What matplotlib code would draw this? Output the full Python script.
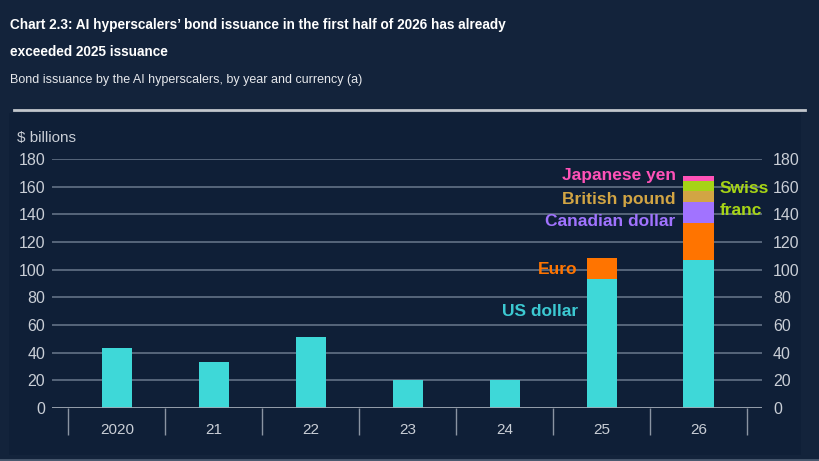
import numpy as np
import matplotlib
matplotlib.use("Agg")
import matplotlib.pyplot as plt
from matplotlib.lines import Line2D
from matplotlib.patches import Rectangle

# values, $ billions
years = ['2020', '21', '22', '23', '24', '25', '26']
us_dollar = [43.5, 33, 51.5, 20, 20, 93, 107]
euro = [0, 0, 0, 0, 0, 15.7, 27]
canadian_dollar = [0, 0, 0, 0, 0, 0, 15.2]
british_pound = [0, 0, 0, 0, 0, 0, 7.7]
swiss_franc = [0, 0, 0, 0, 0, 0, 7.3]
japanese_yen = [0, 0, 0, 0, 0, 0, 3.8]
y_ticks = [0, 20, 40, 60, 80, 100, 120, 140, 160, 180]

BG = '#13233b'
PANEL = '#0f1f37'
GRID = '#56657a'
TICK = '#c9ced6'

series = [
    ('US dollar', us_dollar, '#3ed8d8'),
    ('Euro', euro, '#ff7400'),
    ('Canadian dollar', canadian_dollar, '#a173ff'),
    ('British pound', british_pound, '#d2a544'),
    ('Swiss franc', swiss_franc, '#a6d416'),
    ('Japanese yen', japanese_yen, '#ff52b8'),
]

plt.rcParams['font.family'] = ['Liberation Sans', 'DejaVu Sans']

fig = plt.figure(figsize=(8.19, 4.61), dpi=100, facecolor=BG)
fig.add_artist(Rectangle((9 / 819, 1 - 455 / 461), 792 / 819, 342 / 461,
                         transform=fig.transFigure, facecolor=PANEL, edgecolor='none', zorder=-5))

ax = fig.add_axes([52 / 819, 1 - 408 / 461, 710 / 819, 249 / 461])
ax.set_facecolor('none')
x = np.arange(len(years))
bottom = np.zeros(len(years))
for name, vals, col in series:
    vals = np.array(vals, dtype=float)
    ax.bar(x, vals, width=0.31, bottom=bottom, color=col, zorder=3)
    bottom += vals

ax.set_xlim(-0.67, 6.655)
ax.set_ylim(0, 180)
ax.set_yticks(y_ticks)
ax.set_yticklabels([str(t) for t in y_ticks])
for t in y_ticks[1:]:
    ax.axhline(t, color=GRID, lw=1.4, zorder=1)
ax.axhline(0, color='#a3abb6', lw=2, zorder=4)
for s in ax.spines.values():
    s.set_visible(False)
ax.tick_params(axis='y', length=0, pad=5, labelsize=11.5, labelcolor=TICK)
ax.set_xticks(x)
ax.set_xticklabels(years)
ax.tick_params(axis='x', length=0, pad=11, labelsize=11, labelcolor=TICK)

# category separators below the axis
ax.vlines(np.arange(-0.5, len(years), 1.0), -0.108, 0, transform=ax.get_xaxis_transform(),
          color='#8a94a2', lw=1, clip_on=False, zorder=4)

ax2 = ax.twinx()
ax2.set_ylim(0, 180)
ax2.set_yticks(y_ticks)
ax2.set_yticklabels([str(t) for t in y_ticks])
for s in ax2.spines.values():
    s.set_visible(False)
ax2.tick_params(axis='y', length=0, pad=8, labelsize=11.5, labelcolor=TICK)

# direct labels
lab = dict(fontsize=12.5, fontweight='bold', va='center', zorder=5)
ax.text(4.753, 69.5, 'US dollar', color='#3cc9d2', ha='right', **lab)
ax.text(4.753, 100, 'Euro', color='#ff7400', ha='right', **lab)
ax.text(5.763, 134.5, 'Canadian dollar', color='#a173ff', ha='right', **lab)
ax.text(5.763, 151, 'British pound', color='#d2a544', ha='right', **lab)
ax.text(5.763, 168.3, 'Japanese yen', color='#ff52b8', ha='right', **lab)
ax.text(6.216, 158.5, 'Swiss', color='#a6d416', ha='left', **lab)
ax.text(6.216, 142.5, 'franc', color='#a6d416', ha='left', **lab)

fig.text(10 / 819, 1 - 25 / 461,
         'Chart 2.3: AI hyperscalers\u2019 bond issuance in the first half of 2026 has already',
         fontsize=9.8, fontweight='bold', color='white', va='center')
fig.text(10 / 819, 1 - 52 / 461, 'exceeded 2025 issuance',
         fontsize=9.8, fontweight='bold', color='white', va='center')
fig.text(10 / 819, 1 - 80 / 461, 'Bond issuance by the AI hyperscalers, by year and currency (a)',
         fontsize=9, color='#e6e8ec', va='center')
fig.add_artist(Line2D([14 / 819, 805 / 819], [1 - 110 / 461] * 2, transform=fig.transFigure,
                      color='#c2c6cc', lw=2))
fig.add_artist(Line2D([0, 1], [1 - 459.5 / 461] * 2, transform=fig.transFigure,
                      color='#4a5a70', lw=2))
fig.text(17 / 819, 1 - 138 / 461, '$ billions', fontsize=11, color=TICK, va='center')

fig.savefig('out.png', dpi=100, facecolor=BG)
